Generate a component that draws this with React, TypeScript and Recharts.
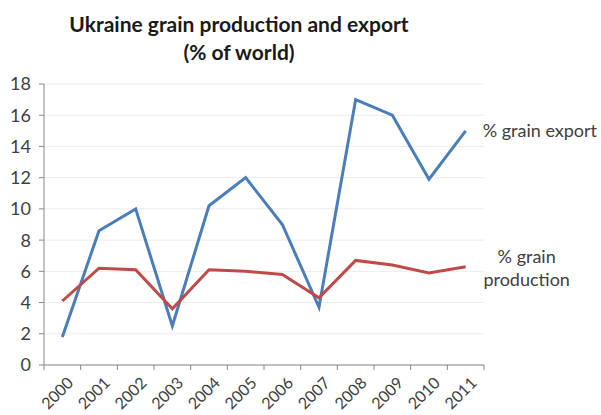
import { LineChart, Line, XAxis, YAxis, CartesianGrid, LabelList } from "recharts";

const YEARS = ["2000", "2001", "2002", "2003", "2004", "2005", "2006", "2007", "2008", "2009", "2010", "2011"];
const EXPORT_PCT = [1.8, 8.6, 10.0, 2.5, 10.2, 12.0, 9.0, 3.7, 17.0, 16.0, 11.9, 15.0];
const PRODUCTION_PCT = [4.1, 6.2, 6.1, 3.6, 6.1, 6.0, 5.8, 4.3, 6.7, 6.4, 5.9, 6.3];
const Y_TICKS = [0, 2, 4, 6, 8, 10, 12, 14, 16, 18];
// category boundaries, Excel style "between tick marks"
const X_BOUNDS = [-0.5, 0.5, 1.5, 2.5, 3.5, 4.5, 5.5, 6.5, 7.5, 8.5, 9.5, 10.5, 11.5];

const W = 601;
const H = 415;
const MARGIN = { top: 84, right: 117, bottom: 5, left: 0 };
const Y_AXIS_W = 44;
const PLOT_W = W - MARGIN.left - MARGIN.right - Y_AXIS_W;
const HALF_BAND = PLOT_W / YEARS.length / 2;

const FONT = "Lato, 'Open Sans', sans-serif";
const TEXT = "#404040";
const AXIS = "#878787";
const BLUE = "#4a7ebb";
const RED = "#be4b48";

const data = YEARS.map((year, i) => ({
  x: i,
  year,
  exp: EXPORT_PCT[i],
  prod: PRODUCTION_PCT[i],
}));

function XTick(props: any) {
  const { x, y, payload } = props;
  const i = Math.round(payload.value + 0.5);
  if (i >= YEARS.length) return null;
  const cx = x + HALF_BAND + 3;
  const cy = y + 5;
  return (
    <text
      x={cx}
      y={cy}
      textAnchor="end"
      dominantBaseline="hanging"
      transform={`rotate(-45, ${cx}, ${cy})`}
      fontSize={16}
      fontFamily={FONT}
      fill={TEXT}
    >
      {YEARS[i]}
    </text>
  );
}

function exportLabel(props: any) {
  const { x, y, index } = props;
  if (index !== YEARS.length - 1) return null;
  return (
    <text x={x + 17} y={y + 2} dominantBaseline="middle" fontSize={18} fontFamily={FONT} fill={TEXT}>
      % grain export
    </text>
  );
}

function productionLabel(props: any) {
  const { x, y, index } = props;
  if (index !== YEARS.length - 1) return null;
  return (
    <text x={x + 61} y={y} textAnchor="middle" fontSize={18} fontFamily={FONT} fill={TEXT}>
      <tspan x={x + 61} dy={-4}>% grain</tspan>
      <tspan x={x + 61} dy={23}>production</tspan>
    </text>
  );
}

export default function App() {
  return (
    <div style={{ position: "absolute", left: 0, top: 0, width: W, height: H, background: "#fff" }}>
      <div
        style={{
          position: "absolute",
          left: 0,
          top: 10,
          width: 478,
          textAlign: "center",
          fontFamily: FONT,
          fontWeight: 700,
          fontSize: 21,
          lineHeight: "28px",
          color: "#1a1a1a",
        }}
      >
        Ukraine grain production and export
        <br />
        (% of world)
      </div>
      <LineChart width={W} height={H} data={data} margin={MARGIN}>
        <CartesianGrid vertical={false} stroke="#f2e9f2" />
        <XAxis
          dataKey="x"
          type="number"
          domain={[-0.5, 11.5]}
          ticks={X_BOUNDS}
          interval={0}
          tick={<XTick />}
          tickSize={5}
          tickMargin={0}
          height={45}
          axisLine={{ stroke: AXIS }}
          tickLine={{ stroke: AXIS }}
        />
        <YAxis
          domain={[0, 18]}
          ticks={Y_TICKS}
          interval={0}
          width={Y_AXIS_W}
          tickSize={5}
          tickMargin={8}
          axisLine={{ stroke: AXIS }}
          tickLine={{ stroke: AXIS }}
          tick={{ fontSize: 18, fontFamily: FONT, fill: TEXT }}
        />
        <Line
          dataKey="exp"
          stroke={BLUE}
          strokeWidth={3}
          dot={false}
          isAnimationActive={false}
        >
          <LabelList dataKey="exp" content={exportLabel} />
        </Line>
        <Line
          dataKey="prod"
          stroke={RED}
          strokeWidth={3}
          dot={false}
          isAnimationActive={false}
        >
          <LabelList dataKey="prod" content={productionLabel} />
        </Line>
      </LineChart>
    </div>
  );
}
